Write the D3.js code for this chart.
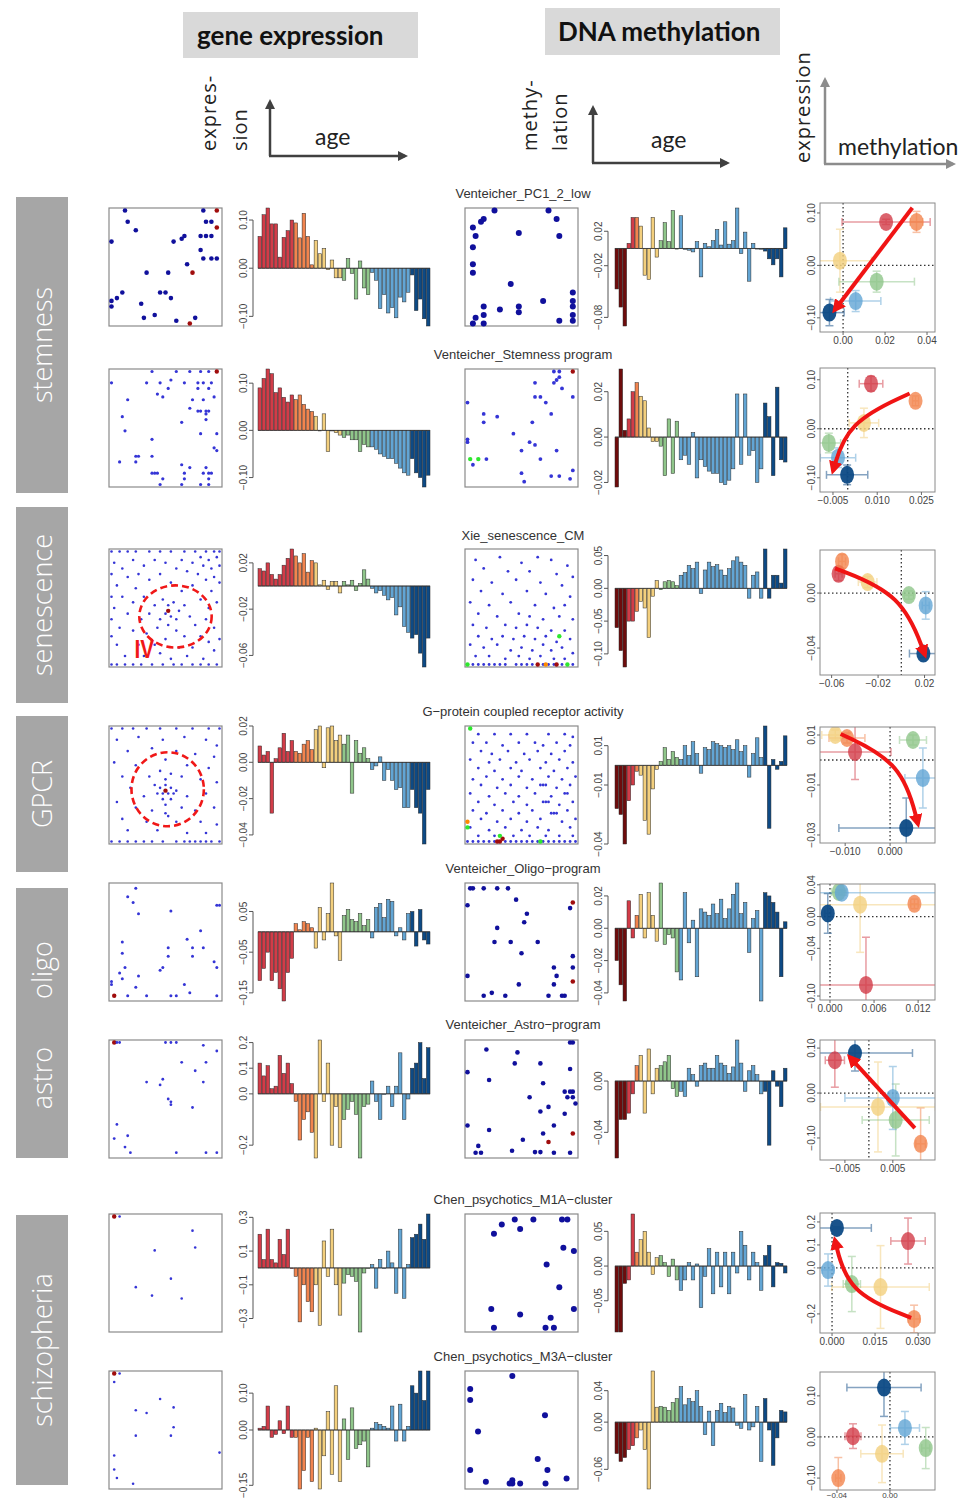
<!DOCTYPE html>
<html>
<head>
<meta charset="utf-8">
<script src="https://cdn.jsdelivr.net/npm/d3@7"></script>
<style>
body { margin: 0; background: #fff; }
svg { display: block; }
text { font-family: "Liberation Sans", Arial, sans-serif; }
</style>
</head>
<body>
<script>
// ---------- data ----------
var headers = ["gene expression", "DNA methylation"];
var categories = ["stemness", "senescence", "GPCR", "oligo", "astro", "schizopheria"];
var rowTitles = ["Venteicher_PC1_2_low", "Venteicher_Stemness program", "Xie_senescence_CM",
  "G\u2212protein coupled receptor activity", "Venteicher_Oligo\u2212program", "Venteicher_Astro\u2212program",
  "Chen_psychotics_M1A\u2212cluster", "Chen_psychotics_M3A\u2212cluster"];

// age groups, young -> old
var exprGroups = ["red", "orange", "yellow", "green", "lightblue", "darkblue"];
var exprGroupSizes = [9, 5, 7, 7, 10, 5];
var methGroups = ["maroon", "red", "orange", "yellow", "green", "lightblue", "darkblue"];
var methGroupSizes = [3, 2, 1, 5, 5, 21, 6];
var scatterGroups = ["red", "orange", "yellow", "green", "lightblue", "darkblue"];

var exprBars = [
  [0.066,0.111,0.125,0.092,0.092,0.023,0.064,0.078,0.1, 0.094,0.063,0.114,0.066,0.007, 0.058,0.03,0.041,-0.003,0.017,-0.02,-0.02, -0.025,0.02,-0.011,-0.064,0.015,-0.041,-0.055, -0.009,-0.025,-0.084,-0.055,-0.093,-0.082,-0.103,-0.06,-0.07,-0.05, -0.014,-0.088,-0.064,-0.105,-0.12],
  [0.09,0.11,0.13,0.12,0.08,0.09,0.07,0.06,0.075, 0.065,0.075,0.055,0.045,0.04, 0.03,0.0,0.035,-0.045,0.0,-0.005,-0.01, -0.015,-0.01,-0.02,-0.02,-0.045,-0.03,-0.035, -0.035,-0.04,-0.05,-0.055,-0.06,-0.06,-0.07,-0.08,-0.09,-0.095, -0.06,-0.09,-0.1,-0.12,-0.095],
  [0.015,0.013,0.02,0.01,0.006,0.01,0.018,0.024,0.032, 0.026,0.02,0.028,0.012,0.022, 0.02,0.001,0.005,-0.003,0.004,0.004,-0.006, 0.004,0.001,0.005,-0.004,0.002,0.014,0.006, -0.002,-0.006,-0.004,-0.008,-0.012,-0.01,-0.025,-0.018,-0.035,-0.04, -0.045,-0.042,-0.058,-0.07,-0.045],
  [0.009,0.004,0.006,-0.028,0.002,0.008,0.016,0.006,0.012, 0.006,0.005,0.01,0.012,0.007, 0.018,0.02,-0.003,0.019,0.02,0.012,0.015, 0.01,0.015,-0.017,0.012,0.005,0.008,0.002, -0.004,-0.002,0.003,-0.01,-0.004,-0.01,-0.015,-0.014,-0.025,-0.025, -0.015,-0.025,-0.028,-0.045,-0.015],
  [-0.12,-0.09,-0.05,-0.12,-0.1,-0.14,-0.17,-0.1,-0.065, 0.02,0.005,0.025,0.02,0.01, -0.04,0.06,-0.02,0.045,0.12,-0.01,-0.07, 0.04,0.055,0.03,0.025,0.045,0.015,0.03, -0.015,0.06,0.07,0.035,0.08,0.075,-0.01,0.01,-0.02,0.045, 0.05,-0.035,0.055,-0.02,-0.03],
  [0.12,0.07,0.11,0.02,0.03,0.15,0.08,0.12,0.04, -0.03,-0.18,-0.1,-0.07,-0.15, -0.25,0.21,-0.03,0.12,-0.2,-0.05,-0.21, -0.1,-0.06,-0.03,-0.08,-0.25,-0.05,-0.04, 0.05,-0.03,-0.1,0.0,0.03,-0.05,0.03,0.16,-0.1,-0.02, 0.1,0.12,0.2,0.06,0.18],
  [0.2,0.05,0.23,0.05,0.03,0.17,0.08,0.23,0.0, -0.05,-0.32,-0.1,-0.2,-0.26, -0.1,-0.34,0.16,-0.05,0.23,-0.1,-0.28, -0.09,-0.04,-0.05,-0.08,-0.38,-0.03,0.0, 0.02,-0.12,0.05,0.0,0.1,0.03,-0.15,0.23,-0.18,0.02, 0.18,0.2,0.26,0.17,0.32],
  [0.005,0.01,0.065,-0.02,-0.012,0.025,-0.01,0.065,-0.02, -0.02,-0.16,-0.11,-0.02,-0.14, 0.005,-0.16,-0.07,0.05,-0.12,0.12,-0.14, 0.03,-0.08,0.06,-0.05,-0.04,-0.03,-0.1, 0.005,0.02,0.015,0.01,0.005,0.065,-0.03,0.07,-0.03,0.01, 0.12,0.1,0.16,0.08,0.16]
];

var methBars = [
  [-0.047,-0.068,-0.09, 0.006,0.036, 0.036, 0.026,-0.031,-0.036,0.036,-0.01, 0.009,0.03,0.008,0.044,0.0, 0.038,-0.001,-0.002,-0.004,0.008,-0.033,0.006,0.002,0.009,0.022,0.004,0.031,0.005,0.009,0.047,-0.006,0.019,-0.038,0.006,0.0,-0.001, -0.003,-0.012,-0.019,-0.012,-0.033,0.024],
  [-0.022,0.03,0.003, 0.008,0.02, 0.024, 0.018,0.016,0.004,-0.002,-0.002, -0.004,-0.017,0.008,-0.016,0.007, -0.01,-0.008,-0.012,0.002,-0.018,-0.01,-0.013,-0.015,-0.016,-0.016,-0.02,-0.021,-0.019,-0.014,0.019,-0.012,0.019,-0.008,-0.006,-0.02,-0.014, 0.015,0.009,-0.017,0.022,-0.01,-0.011],
  [-0.06,-0.095,-0.12, -0.05,-0.05, -0.035, -0.02,-0.03,-0.075,-0.012,0.012, -0.002,0.01,0.012,0.01,0.004, 0.02,0.024,0.035,0.03,0.04,-0.008,0.028,0.04,0.033,0.036,0.028,0.02,0.03,0.042,0.048,0.04,0.035,-0.015,0.02,0.025,-0.015, 0.06,-0.015,0.02,0.02,0.008,0.06],
  [-0.022,-0.025,-0.04, -0.018,-0.01, -0.003, -0.005,-0.028,-0.035,-0.012,-0.002, 0.002,0.009,0.003,0.007,0.004, 0.003,0.01,0.005,0.012,0.006,-0.004,0.009,0.008,0.012,0.011,0.01,0.009,0.01,0.008,0.013,0.007,0.01,-0.006,0.006,0.014,0.004, 0.02,-0.032,0.003,-0.002,0.002,0.015],
  [-0.02,-0.035,-0.045, 0.017,-0.006, 0.008, 0.021,-0.006,0.022,0.008,-0.008, 0.028,-0.01,-0.004,-0.006,-0.027, -0.032,0.022,-0.009,0.005,-0.03,0.012,0.01,0.008,0.015,0.009,0.018,0.006,0.012,0.021,0.028,0.009,0.016,-0.015,0.006,0.011,-0.045, 0.022,0.02,0.016,0.01,-0.03,0.004],
  [-0.06,-0.03,-0.03, -0.025,-0.01, 0.012, 0.02,-0.025,0.025,-0.01,0.01, 0.012,0.015,0.02,-0.006,-0.012, -0.008,-0.012,0.01,0.005,-0.004,0.012,0.014,0.01,0.01,0.02,0.014,0.012,0.006,0.011,0.032,0.014,-0.008,0.008,0.012,0.005,-0.01, -0.008,-0.05,0.008,-0.004,-0.02,0.01],
  [-0.095,-0.095,-0.025, -0.02,0.075, 0.02, 0.038,0.05,0.02,-0.012,0.012, 0.015,0.005,-0.015,0.01,-0.02, -0.035,-0.02,0.005,-0.02,0.003,-0.06,-0.015,0.025,-0.04,0.02,-0.03,0.02,-0.04,0.02,-0.01,0.05,0.03,-0.02,0.02,0.005,-0.035, 0.015,0.03,-0.03,0.005,0.004,-0.01],
  [-0.04,-0.05,-0.045, -0.035,-0.03, -0.02, -0.01,-0.035,-0.085,0.065,0.019, 0.02,0.019,0.015,0.025,0.03, 0.045,0.022,0.03,0.026,0.04,0.02,-0.016,0.014,-0.03,0.015,0.024,0.012,0.02,0.018,-0.004,-0.008,0.035,-0.01,-0.006,0.02,-0.05, 0.03,-0.01,-0.055,-0.02,0.015,0.013]
];

var exprTicks = [["0.10","0.00","-0.10"],["0.10","0.00","-0.10"],["0.02","-0.02","-0.06"],["0.02","0.00","-0.02","-0.04"],
  ["0.05","-0.05","-0.15"],["0.2","0.1","0.0","-0.2"],["0.3","0.1","-0.1","-0.3"],["0.10","0.00","-0.15"]];
var methTicks = [["0.02","-0.02","-0.08"],["0.02","0.00","-0.02"],["0.05","0.00","-0.05","-0.10"],["0.01","-0.01","-0.04"],
  ["0.02","0.00","-0.02","-0.04"],["0.00","-0.04"],["0.05","0.00","-0.05"],["0.04","0.00","-0.06"]];

// SOM maps: [col, row] on a 0..40 grid, optional colour code
var somExpr = [
  [[5,0],[34,0],[39,0,"r"],[6,4],[9,7],[37,4],[35,4],[39,6,"r"],[27,9],[23,11],[26,10],[35,9],[33,9],[37,9],[33,14],[34,17],[37,17],[39,17],[28,19],[30,22,"r"],[13,22],[21,22],[4,29],[2,31],[0,32],[0,34],[18,29],[20,29],[22,31],[11,33],[16,37],[12,38],[24,39],[31,38],[29,40,"r"],[0,11]],
  [[15,0],[24,0],[29,0],[33,0],[36,0],[39,0,"r"],[0,4],[13,4],[18,4],[22,3],[21,6],[27,4],[32,4],[34,4],[37,4],[17,8],[19,9],[32,6],[36,6],[30,10],[34,10],[38,9],[6,10],[29,13],[32,14],[33,14],[35,14],[36,14],[35,15],[35,17],[4,16],[26,18],[5,21],[33,22],[39,22],[15,24],[38,27],[39,28],[15,30],[9,30],[10,30],[3,32],[9,32],[26,33],[29,34],[35,34],[15,36],[16,36],[17,36],[27,36],[34,36],[36,36],[37,36],[19,38],[27,38],[36,38],[18,40],[26,40],[33,40],[36,40]],
  [[0,0],[3,0],[6,0],[9,0],[14,0],[18,0],[22,0],[27,0],[31,0],[35,0],[38,0],[40,0],[33,2],[36,3],[39,2],[30,4],[34,5],[37,6],[40,5],[28,7],[32,8],[38,9],[35,10],[40,11],[26,3],[24,6],[20,4],[16,3],[12,5],[8,3],[4,6],[1,4],[6,9],[10,8],[14,10],[18,8],[22,11],[2,12],[9,13],[30,12],[26,14],[37,14],[0,8],[0,16],[0,24],[0,30],
   [4,16],[8,18],[12,16],[16,19],[19,17],[21,19],[23,18],[25,21],[22,23],[20,22],[24,24],[18,24],[27,19],[29,23],[33,17],[36,20],[39,18],[1,20],[6,22],[11,24],[14,22],[31,26],[35,24],[38,27],[3,27],[8,28],[13,29],[17,27],[21,26],[24,28],[27,30],[33,30],[36,32],[40,31],[2,33],[10,33],[16,33],[20,31],[25,34],[30,34],[38,35],[5,37],[12,37],[18,36],[22,38],[28,37],[34,38],
   [0,40],[2,40],[5,40],[8,40],[11,40],[15,40],[19,40],[23,40],[26,40],[30,40],[33,40],[36,40],[39,40],[21,21,"r"]],
  [[0,0],[4,0],[8,0],[13,0],[18,0],[24,0],[30,0],[36,0],[40,0],[2,4],[10,3],[19,4],[27,3],[35,4],[39,6],[6,8],[15,7],[24,8],[31,9],[38,10],[1,12],[9,13],[20,11],[28,13],[36,14],[4,17],[14,17],[18,15],[22,16],[26,17],[33,18],[39,19],[7,21],[16,20],[18,21],[20,20],[22,21],[24,22],[17,23],[19,23],[21,23],[23,23],[19,25],[22,25],[20,27],[12,24],[28,24],[35,23],[2,26],[9,28],[15,29],[26,28],[31,29],[38,28],[4,32],[13,33],[21,31],[24,33],[33,33],[39,34],[6,36],[17,36],[28,37],[35,37],[20,18],[20,30],[0,40],[3,40],[6,40],[9,40],[12,40],[15,40],[19,40],[24,40],[27,40],[29,40],[31,40],[33,40],[35,40],[37,40],[40,40],[20,22,"r"]],
  [[9,1],[6,4],[8,6],[10,10],[22,9],[39,7],[40,7],[33,16],[28,19],[4,20],[21,22],[30,22],[34,22],[4,24],[21,25],[30,25],[38,27],[39,29],[19,29],[18,30],[5,29],[3,31],[4,33],[0,34],[0,35],[10,32],[9,36],[27,35],[29,38],[1,39,"r"],[6,39],[13,39],[22,39],[24,39],[39,39]],
  [[1,0,"r"],[2,0],[3,0],[20,0],[22,0],[24,0],[34,1],[39,3],[26,7],[35,7],[31,10],[34,14],[13,14],[19,13],[18,15],[21,20],[22,21],[22,22],[30,23],[2,29],[6,33],[1,34],[5,37],[7,39],[24,39],[35,39],[39,39]],
  [[1,0,"r"],[3,0],[30,5],[16,12],[31,11],[22,22],[9,25],[15,28],[26,29]],
  [[1,0,"r"],[3,0],[1,3],[18,9],[23,12],[9,13],[13,14],[23,19],[9,22],[22,22],[40,28],[1,29],[1,34],[2,37],[8,39]]
];

var somMeth = [
  [[10,0],[6,3],[5,4],[2,6],[30,0],[33,3],[19,8],[34,9],[3,9],[2,13],[2,19],[2,22],[16,26],[28,32],[39,29],[39,32],[39,34],[6,34],[12,35],[19,34],[19,36],[6,37],[3,38],[39,37],[39,39],[34,39],[6,40],[2,40]],
  [[32,0],[34,0],[39,0,"r"],[34,2],[33,3],[25,4],[32,4],[35,6],[25,9],[27,9],[39,9],[29,11],[0,11],[6,15],[11,16],[6,18],[31,15],[24,18],[0,24],[0,25],[23,25],[17,22],[25,26],[20,28],[33,28],[27,31],[1,31,"g"],[4,31,"g"],[7,31],[2,33],[34,37],[20,36],[31,37],[21,39],[39,35],[38,38]],
  [[3,3],[12,2],[20,4],[26,2],[31,3],[37,5],[6,6],[15,7],[23,7],[33,8],[39,9],[2,10],[9,11],[18,10],[27,11],[35,12],[5,14],[13,15],[22,14],[29,15],[38,16],[1,18],[8,19],[16,18],[25,19],[32,20],[36,19],[4,22],[11,23],[19,22],[23,23],[28,24],[34,23],[39,24],[2,26],[7,27],[14,26],[18,27],[22,26],[26,27],[31,28],[36,28],[4,30],[9,31],[13,30],[17,31],[21,30],[25,31],[29,30],[33,32],[38,31],[1,33],[6,34],[11,33],[16,35],[20,34],[24,35],[28,33],[31,35],[35,34],[39,36],[3,37],[8,37],[14,38],[19,37],[23,38],[27,37],[32,38],[36,38],
   [2,40],[4,40],[6,40],[8,40],[10,40],[12,40],[14,40],[18,40],[20,40],[22,40],[24,40],[28,40],[30,40],[32,40],[35,40],[39,40],[0,40,"g"],[26,40,"r"],[29,40,"o"],[33,40,"r"],[37,40,"g"],[34,30,"g"]],
  [[4,2],[10,2],[16,2],[22,2],[30,2],[36,2],[39,3],[2,5],[7,5],[13,6],[19,5],[25,5],[28,6],[33,5],[38,6],[5,8],[9,9],[15,8],[21,9],[26,8],[31,9],[36,8],[1,11],[8,12],[12,11],[18,12],[23,11],[29,12],[34,11],[39,12],[4,14],[10,15],[16,14],[20,15],[27,14],[32,15],[37,14],[2,18],[7,17],[13,18],[19,17],[24,18],[30,17],[35,18],[40,17],[5,20],[11,21],[16,20],[22,21],[27,20],[28,20],[29,20],[33,21],[38,20],[1,23],[8,24],[14,23],[19,24],[25,23],[31,24],[36,23],[37,23],[4,26],[10,27],[17,26],[22,27],[28,26],[29,26],[30,26],[34,27],[39,26],[2,29],[7,30],[13,29],[19,30],[24,29],[31,30],[32,30],[33,30],[37,29],[5,32],[11,33],[16,32],[22,33],[27,32],[35,33],[40,32],[1,35],[8,36],[14,35],[20,36],[26,35],[30,36],[38,35],[4,38],[10,38],[17,38],[23,38],[29,38],[34,38],[39,38],
   [0,40],[2,40],[4,40],[6,40],[8,40],[10,40],[14,40],[16,40],[18,40],[20,40],[22,40],[24,40],[26,40],[28,40],[30,40],[32,40],[34,40],[36,40],[38,40],[40,40],[1,0,"g"],[0,33,"o"],[0,35,"g"],[11,40,"r"],[12,40,"r"],[13,39,"r"],[12,38,"g"],[27,40,"g"]],
  [[1,1],[2,1],[6,1],[11,1],[15,1],[18,5],[22,10],[0,7],[38,8],[39,6,"r"],[11,15],[21,13],[10,20],[16,20],[26,20],[20,24],[39,25],[0,32],[19,35],[32,29],[39,29],[33,32],[32,35],[39,34,"r"],[6,39],[9,38],[14,39],[30,39],[35,39],[36,39]],
  [[38,0],[39,0],[7,2.5],[18.5,3.5],[17.5,7.4],[27,7.4],[38,9.4],[0,10.5],[8,13.3],[28,14.4],[23,19.4],[36,17.4],[38,17.4],[39,17.4],[37,19.4],[39,19.4],[30,22.8],[40,21.6],[27,24.4],[36,25.2],[0,29.4],[32,29.4],[8,31],[28,32.2],[39,32.2,"r"],[20.5,34.4],[30,35.2,"r"],[4,36.6],[3,39],[5,39],[16.5,38.3],[25,38.8],[27,38.8],[32,39],[38,39]],
  [[12.7,2.8],[17.5,1.1],[24.4,1.1],[35,1.1],[37,1.1],[19.5,4.4],[9.8,6.1],[35.5,11.1],[39.4,12.2],[29.3,17],[34,25],[39.4,32.7],[8.8,32.7],[19.5,34.7],[30.8,35.8],[9.8,39.4],[28.9,39.4],[32,39.4]],
  [[16.6,0.9],[1,5.5],[1,9.4],[28.7,14.8],[3.9,20.5],[26,30.3],[29.6,34.2],[1,34.2],[36.7,37.2],[6.8,38.3],[16.6,38.9],[16.6,37.8],[19.5,38.9],[15.6,38.9],[28.9,38.9]]
];

// dashed-circle annotation on the expression map: [cx, cy, rx, ry] in grid units
var somCircles = [null, null, [23.7, 23, 13.4, 11], [20.8, 21.5, 13.4, 13.1], null, null, null, null];
var somLabels = [null, null, ["IV", 8.5, 37.7], null, null, null, null, null];

// expression vs methylation scatter (order follows scatterGroups)
var scatterX = [
  [0.0205,0.035,-0.0015,0.016,0.006,-0.0065],
  [0.0079,0.023,0.0055,-0.0064,-0.0033,-0.0002],
  [-0.054,-0.051,-0.029,0.0065,0.021,0.019],
  [-0.0078,-0.0096,-0.0122,0.0051,0.0073,0.0036],
  [0.0049,0.0115,0.0041,0.0012,0.0016,-0.0003],
  [-0.0071,0.0108,0.0019,0.0056,0.005,-0.0029],
  [0.0265,0.0286,0.0169,0.0069,-0.0014,0.0017],
  [-0.0279,-0.039,-0.006,0.027,0.0113,-0.0045]
];
var scatterY = [
  [0.083,0.083,0.009,-0.031,-0.068,-0.09],
  [0.092,0.057,0.012,-0.029,-0.059,-0.094],
  [0.014,0.023,0.008,-0.0015,-0.009,-0.044],
  [0.0032,0.0088,0.010,0.008,-0.0072,-0.0272],
  [-0.086,0.016,0.015,0.031,0.030,0.004],
  [0.073,-0.113,-0.031,-0.06,-0.011,0.089],
  [0.117,-0.222,-0.083,-0.07,-0.009,0.174],
  [0.002,-0.1,-0.041,-0.027,0.022,0.12]
];
var scatterXErr = [
  [0.021,0.003,0.015,0.018,0.012,0.007],
  [0.004,0.001,0.005,0.004,0.006,0.007],
  [0.003,0.003,0.008,0.004,0.003,0.012],
  [0.008,0.004,0.003,0.003,0.004,0.015],
  [0.011,0.0005,0.012,0.001,0.013,0.0004],
  [0.002,0.001,0.012,0.007,0.01,0.012],
  [0.006,0.002,0.017,0.003,0.002,0.012],
  [0.006,0.002,0.016,0.003,0.011,0.028]
];
var scatterYErr = [
  [0.005,0.02,0.06,0.02,0.02,0.025],
  [0.015,0.01,0.03,0.02,0.02,0.02],
  [0.005,0.005,0.004,0.003,0.01,0.003],
  [0.011,0.002,0.002,0.002,0.012,0.012],
  [0.06,0.006,0.06,0.003,0.003,0.025],
  [0.06,0.08,0.1,0.08,0.07,0.04],
  [0.1,0.06,0.18,0.12,0.07,0.005],
  [0.03,0.05,0.07,0.05,0.04,0.07]
];
var scatterXDom = [[-0.011,0.0438],[-0.0094,0.0296],[-0.070,0.029],[-0.0156,0.0100],[-0.00136,0.0143],[-0.0102,0.0138],[-0.0042,0.0359],[-0.0528,0.034]];
var scatterYDom = [[-0.127,0.119],[-0.129,0.124],[-0.0596,0.0313],[-0.0332,0.0132],[-0.105,0.041],[-0.149,0.118],[-0.283,0.239],[-0.129,0.158]];
var scatterXTicks = [["0.00","0.02","0.04"],["-0.005","0.010","0.025"],["-0.06","-0.02","0.02"],["-0.010","0.000"],
  ["0.000","0.006","0.012"],["-0.005","0.005"],["0.000","0.015","0.030"],["-0.04","0.00"]];
var scatterYTicks = [["0.10","0.00","-0.10"],["0.10","0.00","-0.10"],["0.00","-0.04"],["0.01","-0.01","-0.03"],
  ["0.04","0.00","-0.04","-0.10"],["0.10","0.00","-0.10"],["0.2","0.1","0.0","-0.2"],["0.10","0.00","-0.10"]];
var trendArrows = [
  [[0.033,0.11],[-0.004,-0.085]],
  [[0.021,0.072],[-0.001,0.016],[-0.005,-0.086]],
  [[-0.057,0.018],[0.003,0.0007],[0.0203,-0.045]],
  [[-0.011,0.0104],[0.0033,-0.0004],[0.0062,-0.0256]],
  [],
  [[0.0096,-0.078],[-0.004,0.08]],
  [[0.0276,-0.217],[0.0045,-0.117],[0.001,0.122]],
  []
];

// ---------- layout ----------
var W = 968, H = 1499;
var rowTop = [208, 369, 549, 726, 883, 1040, 1214, 1371];
var rowH = 118;
var titleY = [198, 359, 540, 716, 873, 1029, 1204, 1361];
var somW = 113, somExprX = 109, somMethX = 465;
var somExprR = [2.3, 1.6, 1.3, 1.3, 1.5, 1.4, 1.3, 1.3];
var somMethR = [3, 1.9, 1.4, 1.4, 2.3, 2.3, 3, 3];
var exprAxisX = 253, exprBarRange = [258, 430];
var methAxisX = 608, methBarRange = [615, 787];
var scL = 820, scR = 935;
var scTop = [203, 368, 550, 727, 884, 1040, 1213, 1372];
var scBot = [332, 492, 675, 843, 1000, 1160, 1333, 1490];

var colors = {
  maroon: "#6e0c0c", red: "#d23c48", orange: "#f2844e", yellow: "#f3cf7d",
  green: "#8fc68a", lightblue: "#62a5d4", darkblue: "#0d4a85"
};
var somColors = { r: "#a00d0d", g: "#2ee82e", o: "#ff8a00" };

var svg = d3.select("body").append("svg").attr("width", W).attr("height", H);
var defs = svg.append("defs");

function marker(id, color, size) {
  defs.append("marker").attr("id", id)
      .attr("viewBox", "0 0 10 10").attr("refX", 7).attr("refY", 5)
      .attr("markerWidth", size).attr("markerHeight", size).attr("orient", "auto")
    .append("path").attr("d", "M0,0L10,5L0,10z").attr("fill", color);
}
marker("ahDark", "#404040", 4);
marker("ahGray", "#8c8c8c", 4);
marker("ahRed", "#f01414", 3.4);

function minus(s) { return s.replace("-", "\u2212"); }

// ---------- header ----------
var headerBoxes = [[183, 12, 235, 46, 197, 45], [545, 8, 235, 47, 558, 41]];
headers.forEach(function(h, i) {
  var b = headerBoxes[i];
  svg.append("rect").attr("x", b[0]).attr("y", b[1]).attr("width", b[2]).attr("height", b[3]).attr("fill", "#d9d9d9");
  svg.append("text").attr("x", b[4]).attr("y", b[5]).text(h)
    .style("font-family", "Lato, 'Open Sans', sans-serif").style("font-weight", "bold")
    .style("font-size", "26px").attr("fill", "#111");
});

function vText(x, y, s, size, color) {
  svg.append("text").attr("transform", "translate(" + x + "," + y + ") rotate(-90)")
    .text(s).style("font-family", "'Open Sans', sans-serif").style("font-size", size + "px")
    .style("letter-spacing", "1px").attr("fill", color);
}
function hText(x, y, s, color) {
  svg.append("text").attr("x", x).attr("y", y).text(s)
    .style("font-family", "Lato, sans-serif").style("font-size", "23px").attr("fill", color);
}
function arrow(x1, y1, x2, y2, color, m) {
  svg.append("line").attr("x1", x1).attr("y1", y1).attr("x2", x2).attr("y2", y2)
    .attr("stroke", color).attr("stroke-width", 2.5).attr("marker-end", "url(#" + m + ")");
}
vText(216, 151, "expres-", 20, "#222");
vText(247, 151, "sion", 20, "#222");
arrow(270, 156, 270, 102, "#404040", "ahDark");
arrow(269, 156, 405, 156, "#404040", "ahDark");
hText(315, 145, "age", "#222");
vText(537, 151, "methy-", 20, "#222");
vText(567, 151, "lation", 20, "#222");
arrow(593, 163, 593, 108, "#404040", "ahDark");
arrow(592, 163, 727, 163, "#404040", "ahDark");
hText(651, 148, "age", "#222");
vText(810, 163, "expression", 20, "#222");
arrow(825, 164, 825, 80, "#8c8c8c", "ahGray");
arrow(824, 164, 953, 164, "#8c8c8c", "ahGray");
hText(838, 155, "methylation", "#222");

// ---------- left category labels ----------
var catBoxes = [[197, 493], [507, 703], [716, 872], [888, 1158], null, [1215, 1485]];
var catCenters = [345, 605, 794, 970, 1078, 1350];
categories.forEach(function(c, i) {
  var b = catBoxes[i];
  if (b) svg.append("rect").attr("x", 16).attr("y", b[0]).attr("width", 52).attr("height", b[1] - b[0]).attr("fill", "#a6a6a6");
  svg.append("text").attr("transform", "translate(42," + catCenters[i] + ") rotate(-90)")
    .attr("text-anchor", "middle").attr("dy", "0.36em").text(c)
    .style("font-family", "'Open Sans', sans-serif").style("font-weight", 300)
    .style("font-size", "27px").attr("fill", "#fff");
});

// ---------- panels ----------
function groupOf(groups, sizes) {
  var out = [];
  sizes.forEach(function(n, k) { for (var j = 0; j < n; j++) out.push(groups[k]); });
  return out;
}
var exprBarGroup = groupOf(exprGroups, exprGroupSizes);
var methBarGroup = groupOf(methGroups, methGroupSizes);

function drawSom(pts, x0, y0, r, circle, label) {
  var g = svg.append("g");
  var sx = d3.scaleLinear().domain([0, 40]).range([x0 + 2.5, x0 + somW - 2.5]);
  var sy = d3.scaleLinear().domain([0, 40]).range([y0 + 2.5, y0 + rowH - 2.5]);
  g.append("rect").attr("x", x0).attr("y", y0).attr("width", somW).attr("height", rowH)
    .attr("fill", "#fff").attr("stroke", "#8a8a8a").attr("stroke-width", 1.2);
  g.selectAll("circle.dot").data(pts).join("circle").attr("class", "dot")
    .attr("cx", function(d) { return sx(d[0]); })
    .attr("cy", function(d) { return sy(d[1]); })
    .attr("r", function(d) { return d[2] ? Math.max(r, 2.2) : r; })
    .attr("fill", function(d) { return d[2] ? somColors[d[2]] : (r >= 2 ? "#10109c" : "#3535d6"); });
  if (circle) {
    g.append("ellipse").attr("cx", sx(circle[0])).attr("cy", sy(circle[1]))
      .attr("rx", sx(circle[2]) - sx(0)).attr("ry", sy(circle[3]) - sy(0))
      .attr("fill", "none").attr("stroke", "#f01818").attr("stroke-width", 2.6)
      .attr("stroke-dasharray", "7,4");
  }
  if (label) {
    g.append("text").attr("x", sx(label[1])).attr("y", sy(label[2])).text(label[0])
      .style("font-size", "26px").style("font-weight", "bold").attr("fill", "#f01818")
      .attr("transform", "translate(" + sx(label[1]) + "," + sy(label[2]) + ") scale(0.8,1) translate(" + (-sx(label[1])) + "," + (-sy(label[2])) + ")");
  }
}

function drawBars(values, groups, ticks, range, axisX, y0) {
  var g = svg.append("g");
  var x = d3.scaleBand().domain(d3.range(values.length)).range(range).paddingInner(0.1);
  var y = d3.scaleLinear().domain(d3.extent(values.concat([0]))).range([y0 + rowH, y0]);
  g.selectAll("rect").data(values).join("rect")
    .attr("x", function(d, i) { return x(i); })
    .attr("width", x.bandwidth())
    .attr("y", function(d) { return Math.min(y(d), y(0)); })
    .attr("height", function(d) { return Math.max(0.6, Math.abs(y(d) - y(0))); })
    .attr("fill", function(d, i) { return colors[groups[i]]; })
    .attr("stroke", "#2a2a2a").attr("stroke-width", 0.5);
  g.append("line").attr("x1", range[0]).attr("x2", range[1]).attr("y1", y(0)).attr("y2", y(0))
    .attr("stroke", "#333").attr("stroke-width", 0.8);
  var tv = ticks.map(function(t) { return +t; });
  g.append("line").attr("x1", axisX).attr("x2", axisX)
    .attr("y1", y(d3.max(tv))).attr("y2", y(d3.min(tv)))
    .attr("stroke", "#555").attr("stroke-width", 1);
  ticks.forEach(function(t) {
    g.append("line").attr("x1", axisX - 4).attr("x2", axisX).attr("y1", y(+t)).attr("y2", y(+t))
      .attr("stroke", "#555").attr("stroke-width", 1);
    g.append("text").attr("transform", "translate(" + (axisX - 6) + "," + y(+t) + ") rotate(-90)")
      .attr("text-anchor", "middle").text(minus(t)).style("font-size", "10px").attr("fill", "#444");
  });
}

function drawScatter(i) {
  var top = scTop[i], bot = scBot[i];
  var x = d3.scaleLinear().domain(scatterXDom[i]).range([scL, scR]);
  var y = d3.scaleLinear().domain(scatterYDom[i]).range([bot, top]);
  var g = svg.append("g");
  defs.append("clipPath").attr("id", "clip" + i)
    .append("rect").attr("x", scL).attr("y", top).attr("width", scR - scL).attr("height", bot - top);
  var inner = g.append("g").attr("clip-path", "url(#clip" + i + ")");
  inner.append("line").attr("x1", x(0)).attr("x2", x(0)).attr("y1", top).attr("y2", bot)
    .attr("stroke", "#333").attr("stroke-width", 1.3).attr("stroke-dasharray", "1.5,2.5");
  inner.append("line").attr("x1", scL).attr("x2", scR).attr("y1", y(0)).attr("y2", y(0))
    .attr("stroke", "#333").attr("stroke-width", 1.3).attr("stroke-dasharray", "1.5,2.5");
  scatterGroups.forEach(function(grp, k) {
    var cx = x(scatterX[i][k]), cy = y(scatterY[i][k]);
    var xa = x(scatterX[i][k] - scatterXErr[i][k]), xb = x(scatterX[i][k] + scatterXErr[i][k]);
    var ya = y(scatterY[i][k] - scatterYErr[i][k]), yb = y(scatterY[i][k] + scatterYErr[i][k]);
    var eg = inner.append("g").attr("stroke", colors[grp]).attr("stroke-width", 1.5).attr("opacity", 0.5);
    eg.append("line").attr("x1", xa).attr("x2", xb).attr("y1", cy).attr("y2", cy);
    eg.append("line").attr("x1", xa).attr("x2", xa).attr("y1", cy - 4).attr("y2", cy + 4);
    eg.append("line").attr("x1", xb).attr("x2", xb).attr("y1", cy - 4).attr("y2", cy + 4);
    eg.append("line").attr("x1", cx).attr("x2", cx).attr("y1", ya).attr("y2", yb);
    eg.append("line").attr("x1", cx - 4).attr("x2", cx + 4).attr("y1", ya).attr("y2", ya);
    eg.append("line").attr("x1", cx - 4).attr("x2", cx + 4).attr("y1", yb).attr("y2", yb);
  });
  inner.selectAll("ellipse").data(scatterGroups).join("ellipse")
    .attr("cx", function(d, k) { return x(scatterX[i][k]); })
    .attr("cy", function(d, k) { return y(scatterY[i][k]); })
    .attr("rx", 7).attr("ry", 9)
    .attr("fill", function(d) { return colors[d]; })
    .attr("opacity", function(d) { return d === "darkblue" ? 0.95 : 0.8; });
  if (trendArrows[i].length) {
    var line = d3.line().x(function(d) { return x(d[0]); }).y(function(d) { return y(d[1]); })
      .curve(d3.curveBundle.beta(0.9));
    g.append("path").attr("d", line(trendArrows[i])).attr("fill", "none")
      .attr("stroke", "#f01414").attr("stroke-width", 4).attr("stroke-linejoin", "round")
      .attr("marker-end", "url(#ahRed)");
  }
  g.append("rect").attr("x", scL).attr("y", top).attr("width", scR - scL).attr("height", bot - top)
    .attr("fill", "none").attr("stroke", "#8a8a8a").attr("stroke-width", 1);
  scatterYTicks[i].forEach(function(t) {
    g.append("line").attr("x1", scL - 3).attr("x2", scL).attr("y1", y(+t)).attr("y2", y(+t)).attr("stroke", "#666");
    g.append("text").attr("transform", "translate(" + (scL - 5) + "," + y(+t) + ") rotate(-90)")
      .attr("text-anchor", "middle").text(minus(t)).style("font-size", "10px").attr("fill", "#444");
  });
  scatterXTicks[i].forEach(function(t) {
    g.append("line").attr("x1", x(+t)).attr("x2", x(+t)).attr("y1", bot).attr("y2", bot + 3).attr("stroke", "#666");
    g.append("text").attr("x", x(+t)).attr("y", Math.min(bot + 12, H - 1.5)).attr("text-anchor", "middle")
      .text(minus(t)).style("font-size", bot + 12 > H ? "8px" : "10px").attr("fill", "#444");
  });
}

rowTitles.forEach(function(title, i) {
  svg.append("text").attr("x", 523).attr("y", titleY[i]).attr("text-anchor", "middle")
    .text(title).style("font-size", "13px").attr("fill", "#333");
  drawSom(somExpr[i], somExprX, rowTop[i], somExprR[i], somCircles[i], somLabels[i]);
  drawBars(exprBars[i], exprBarGroup, exprTicks[i], exprBarRange, exprAxisX, rowTop[i]);
  drawSom(somMeth[i], somMethX, rowTop[i], somMethR[i], null, null);
  drawBars(methBars[i], methBarGroup, methTicks[i], methBarRange, methAxisX, rowTop[i]);
  drawScatter(i);
});
</script>
</body>
</html>
